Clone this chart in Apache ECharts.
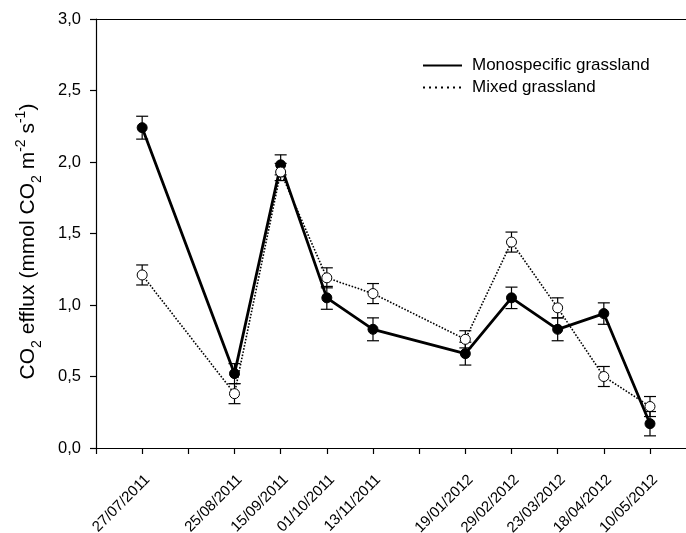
<!DOCTYPE html>
<html><head><meta charset="utf-8">
<script src="https://cdn.jsdelivr.net/npm/echarts@6/dist/echarts.min.js"></script>
<style>html,body{margin:0;padding:0;background:#fff}#c{width:686px;height:533px}</style>
</head><body><div id="c"></div>
<script>
const dateLabels = ['27/07/2011','25/08/2011','15/09/2011','01/10/2011','13/11/2011','19/01/2012','29/02/2012','23/03/2012','18/04/2012','10/05/2012'];
const datePositions = [1,3,4,5,6,8,9,10,11,12];
const monoValues = [2.24,0.52,1.98,1.05,0.83,0.66,1.05,0.83,0.94,0.17];
const monoSE = [0.08,0.07,0.07,0.08,0.08,0.08,0.075,0.08,0.075,0.085];
const mixedValues = [1.21,0.38,1.93,1.19,1.08,0.76,1.44,0.98,0.50,0.29];
const mixedSE = [0.07,0.07,0.06,0.07,0.07,0.06,0.07,0.07,0.07,0.07];

const FONT = "'Liberation Sans', Arial, sans-serif";
const labelMap = {};
datePositions.forEach((p,i)=>labelMap[p]=dateLabels[i]);

function pts(vals){ return datePositions.map((p,i)=>[p, vals[i]]); }
function errData(vals, se){ return datePositions.map((p,i)=>[p, vals[i]-se[i], vals[i]+se[i]]); }

function errRender(params, api){
  const x = api.value(0), lo = api.value(1), hi = api.value(2);
  const a = api.coord([x, lo]), b = api.coord([x, hi]);
  const w = 6;
  const st = {stroke:'#000', lineWidth:1.2};
  return {type:'group', children:[
    {type:'line', shape:{x1:a[0],y1:a[1],x2:b[0],y2:b[1]}, style:st},
    {type:'line', shape:{x1:a[0]-w,y1:a[1],x2:a[0]+w,y2:a[1]}, style:st},
    {type:'line', shape:{x1:b[0]-w,y1:b[1],x2:b[0]+w,y2:b[1]}, style:st}
  ]};
}

const chart = echarts.init(document.getElementById('c'));
chart.setOption({
  animation:false,
  backgroundColor:'#fff',
  textStyle:{fontFamily:FONT, color:'#000'},
  grid:{left:96, right:0, top:19, bottom:85, outerBoundsMode:'none', containLabel:false},
  legend:{
    orient:'vertical', left:422, top:57, padding:0, itemWidth:39, itemHeight:14, itemGap:5,
    itemStyle:{opacity:0},
    textStyle:{fontFamily:FONT, fontSize:17, color:'#000', padding:[0,0,0,5]},
    data:['Monospecific grassland','Mixed grassland']
  },
  xAxis:[{
    type:'value', min:0, max:12.78, interval:1,
    axisLine:{show:true, lineStyle:{color:'#000', width:1.2}},
    axisTick:{show:true, length:6, lineStyle:{color:'#000', width:1.2}},
    splitLine:{show:false},
    axisLabel:{rotate:45, fontSize:15, color:'#000', fontFamily:FONT, margin:24,
      verticalAlign:'top',
      showMinLabel:true, showMaxLabel:false,
      formatter:v=>labelMap[v]||''}
  },{
    type:'value', position:'top', min:0, max:12.78,
    axisLine:{show:true, onZero:false, lineStyle:{color:'#000', width:1.2}},
    axisTick:{show:false}, axisLabel:{show:false}, splitLine:{show:false}
  }],
  yAxis:{
    type:'value', min:0, max:3, interval:0.5,
    axisLine:{show:true, lineStyle:{color:'#000', width:1.2}},
    axisTick:{show:true, length:6, lineStyle:{color:'#000', width:1.2}},
    splitLine:{show:false},
    axisLabel:{fontSize:16.5, color:'#000', fontFamily:FONT, margin:15,
      formatter:v=>v.toFixed(1).replace('.',',')},
    name:'CO{sub|2} efflux (mmol CO{sub|2} m{sup|-2} s{sup|-1})',
    nameLocation:'middle', nameGap:54, nameRotate:90,
    nameTextStyle:{fontSize:21, color:'#000', fontFamily:FONT, lineHeight:28, padding:[0,16,0,0],
      rich:{
        sub:{fontSize:14, fontFamily:FONT, color:'#000', verticalAlign:'bottom', lineHeight:28, padding:[0,0,-2,0]},
        sup:{fontSize:14, fontFamily:FONT, color:'#000', verticalAlign:'top', lineHeight:28}
      }}
  },
  series:[
    {type:'custom', name:'errMono', renderItem:errRender, data:errData(monoValues, monoSE), z:1, encode:{x:0,y:[1,2]}},
    {type:'custom', name:'errMixed', renderItem:errRender, data:errData(mixedValues, mixedSE), z:1, encode:{x:0,y:[1,2]}},
    {type:'line', name:'monoData', data:pts(monoValues), z:3,
      lineStyle:{color:'#000', width:2.8}, symbol:'circle', symbolSize:10,
      itemStyle:{color:'#000', borderColor:'#000', borderWidth:1}},
    {type:'line', name:'mixedData', data:pts(mixedValues), z:4,
      lineStyle:{color:'#000', width:1.6, type:'dotted'}, symbol:'circle', symbolSize:10,
      itemStyle:{color:'#fff', borderColor:'#000', borderWidth:1}},
    {type:'line', name:'Monospecific grassland', data:[], symbol:'none',
      lineStyle:{color:'#000', width:2.8}, itemStyle:{color:'#000'}},
    {type:'line', name:'Mixed grassland', data:[], symbol:'none',
      lineStyle:{color:'#000', width:2, type:[2,4]}, itemStyle:{color:'#000'}}
  ]
});
</script>
</body></html>
